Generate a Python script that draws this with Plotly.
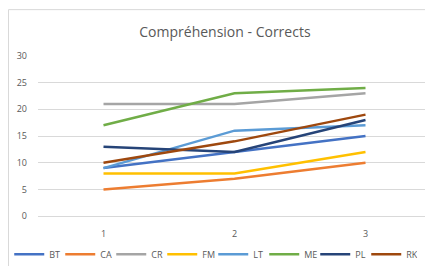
import plotly.graph_objects as go

categories = ["1", "2", "3"]
series_names = ["BT", "CA", "CR", "FM", "LT", "ME", "PL", "RK"]
BT = [9, 12, 15]
CA = [5, 7, 10]
CR = [21, 21, 23]
FM = [8, 8, 12]
LT = [9, 16, 17]
ME = [17, 23, 24]
PL = [13, 12, 18]
RK = [10, 14, 19]
values = [BT, CA, CR, FM, LT, ME, PL, RK]
colors = ["#4472C4", "#ED7D31", "#A5A5A5", "#FFC000", "#5B9BD5", "#70AD47", "#264478", "#9E480E"]
y_ticks = [0, 5, 10, 15, 20, 25, 30]

W = 433
fig = go.Figure()
for name, vals, col in zip(series_names, values, colors):
    fig.add_trace(go.Scatter(x=[1, 2, 3], y=vals, mode="lines", name=name,
                             line=dict(color=col, width=2.5)))

fig.update_layout(
    width=W, height=266,
    margin=dict(l=0, r=0, t=47, b=57, autoexpand=False),
    paper_bgcolor="white", plot_bgcolor="white",
    font=dict(family="Open Sans, Liberation Sans, sans-serif", color="#595959", size=9),
    title=dict(text="Compréhension - Corrects", x=0.501, xanchor="center", y=0.91, yanchor="middle",
               font=dict(size=14, color="#595959")),
    showlegend=True,
    legend=dict(orientation="h", x=0.474, xanchor="center", y=-0.23, yanchor="middle",
                font=dict(size=9, color="#595959"), itemwidth=30, tracegroupgap=0,
                entrywidth=6, entrywidthmode="pixels"),
    xaxis=dict(domain=[30 / W, 423 / W], range=[0.5, 3.5], tickvals=[1, 2, 3], ticktext=categories,
               showgrid=False, zeroline=False, showline=False, ticks="", ticklabelstandoff=10,
               tickfont=dict(size=9, color="#595959")),
    yaxis=dict(range=[-0.15, 30.15], tickvals=y_ticks, showgrid=True, gridcolor="#D9D9D9", gridwidth=1,
               zeroline=True, zerolinecolor="#D9D9D9", zerolinewidth=1, showline=False, ticks="",
               ticklabelstandoff=10, tickfont=dict(size=9, color="#595959")),
    shapes=[dict(type="rect", xref="paper", yref="paper", x0=0.5 / W, x1=1.1, y0=-0.8, y1=1.28,
                 line=dict(color="#D9D9D9", width=1), fillcolor="rgba(0,0,0,0)")],
)
fig.write_html("out.html")
